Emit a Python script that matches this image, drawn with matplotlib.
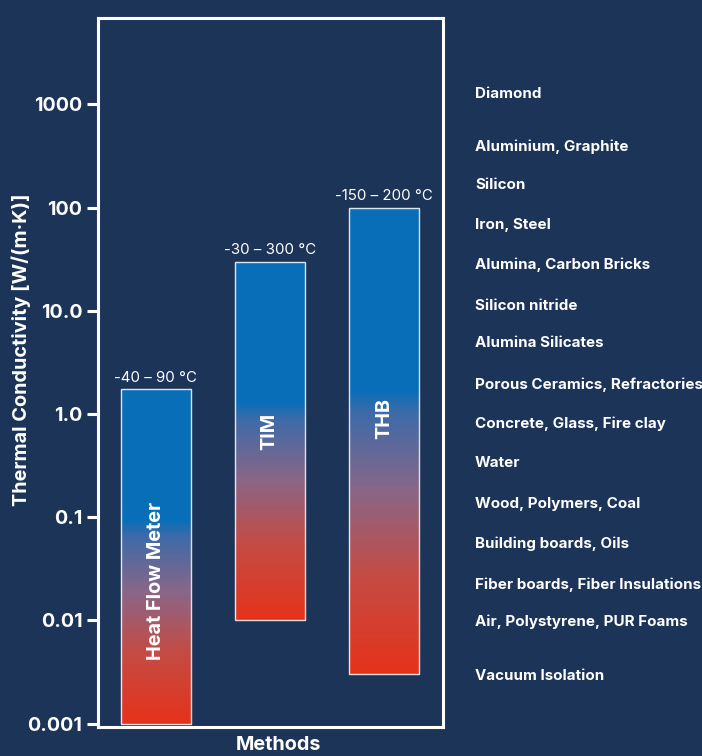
import numpy as np
import matplotlib as mpl
mpl.use('Agg')
import matplotlib.pyplot as plt
from matplotlib.colors import LinearSegmentedColormap
from matplotlib.transforms import blended_transform_factory

# data
methods = ["Heat Flow Meter", "TIM", "THB"]
k_low   = [0.001, 0.01, 0.003]
k_high  = [1.73, 30.0, 100.0]
temps   = ["-40 – 90 °C", "-30 – 300 °C", "-150 – 200 °C"]
label_y = [0.024, 0.68, 0.91]

ytick_vals   = [0.001, 0.01, 0.1, 1.0, 10.0, 100.0, 1000.0]
ytick_labels = ["0.001", "0.01", "0.1", "1.0", "10.0", "100", "1000"]

materials = ["Diamond", "Aluminium, Graphite", "Silicon", "Iron, Steel",
             "Alumina, Carbon Bricks", "Silicon nitride", "Alumina Silicates",
             "Porous Ceramics, Refractories", "Concrete, Glass, Fire clay", "Water",
             "Wood, Polymers, Coal", "Building boards, Oils",
             "Fiber boards, Fiber Insulations", "Air, Polystyrene, PUR Foams",
             "Vacuum Isolation"]
material_k = [1300, 400, 170, 70, 29, 11.5, 5.0, 2.0, 0.83, 0.35, 0.14,
              0.057, 0.023, 0.01, 0.003]

bg = '#1d3459'
mpl.rcParams['font.family'] = ['Inter', 'DejaVu Sans']

cmap = LinearSegmentedColormap.from_list("blue_red", [
    (0.0, '#086eb8'), (0.08, '#3d6aa8'), (0.35, '#886688'),
    (0.65, '#c44b44'), (1.0, '#e5321a')])

fig = plt.figure(figsize=(7.02, 7.56), dpi=100, facecolor=bg)
ax = fig.add_axes([98.3/702, 1-727/756, 344.4/702, 709/756])
ax.set_facecolor(bg)
ax.set_yscale('log')
ax.set_ylim(0.000927, 6870)
ax.set_xlim(-0.5035, 2.517)
w = 0.614

for i in range(len(methods)):
    lo, hi = np.log10(k_low[i]), np.log10(k_high[i])
    ye = np.logspace(lo, hi, 301)
    t = (hi - np.log10(0.5*(ye[1:]+ye[:-1]))) / (hi - lo)
    c = np.clip((t - 0.39) / 0.61, 0, 1)
    ax.pcolormesh([i - w/2, i + w/2], ye, c[:, None], cmap=cmap, vmin=0, vmax=1,
                  shading='flat', zorder=2)
    ax.bar(i, k_high[i] - k_low[i], bottom=k_low[i], width=w, fill=False,
           edgecolor=(1, 1, 1, 0.85), linewidth=1.0, zorder=3)
    ax.annotate(temps[i], (i, k_high[i]), xytext=(0, 3.5), textcoords='offset points',
                ha='center', va='bottom', color='white', fontsize=10.8,
                fontweight='normal')
    ax.text(i, label_y[i], methods[i], rotation=90, ha='center', va='center',
            color='white', fontsize=14.3, fontweight='bold', zorder=4)

ax.set_yticks(ytick_vals, ytick_labels)
ax.minorticks_off()
ax.set_xticks([])
ax.tick_params(axis='y', colors='white', length=8, width=2.2, pad=3.5,
               labelsize=14.2)
for lab in ax.get_yticklabels():
    lab.set_fontweight('bold')
for s in ax.spines.values():
    s.set_color('white')
    s.set_linewidth(2.2)

ax.set_ylabel("Thermal Conductivity [W/(m·K)]", color='white', fontsize=14.3,
              fontweight='bold')
ax.yaxis.set_label_coords(-0.196, 0.532)
ax.set_xlabel("Methods", color='white', fontsize=14.3, fontweight='bold')
ax.xaxis.set_label_coords(0.522, -0.012)

tr = blended_transform_factory(fig.transFigure, ax.transData)
for name, kv in zip(materials, material_k):
    ax.text(475/702, kv, name, transform=tr, ha='left', va='center_baseline',
            color='white', fontsize=10.9, fontweight='bold', clip_on=False)

plt.savefig("out.png", dpi=100, facecolor=bg)
